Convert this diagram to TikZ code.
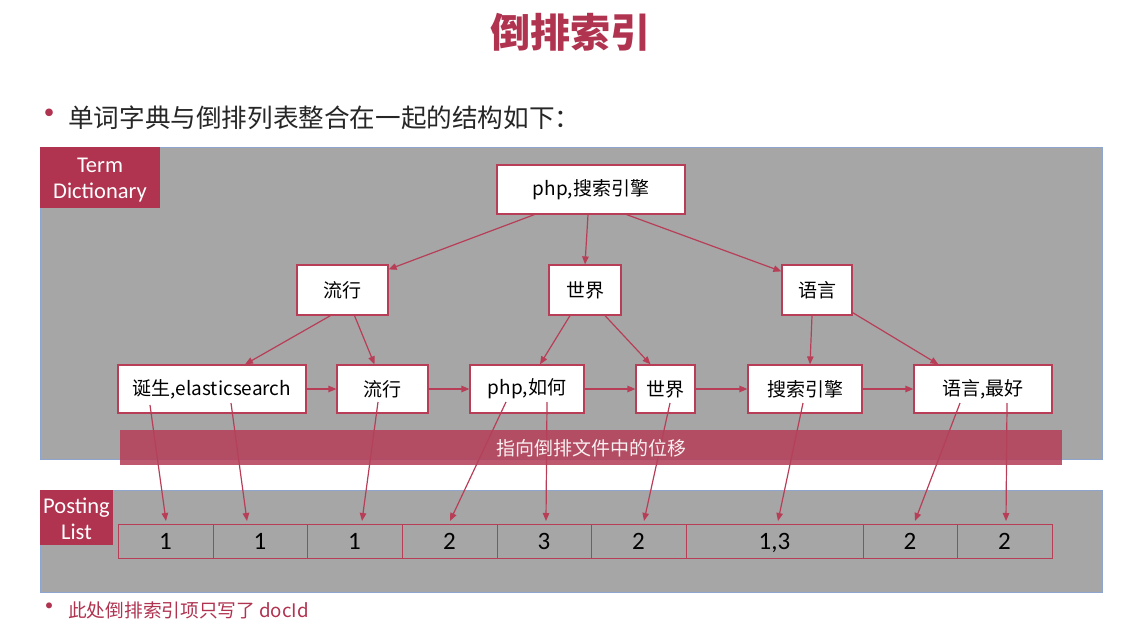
\documentclass[tikz,border=0pt]{standalone}
\usepackage{fontspec}
\setmainfont{Noto Sans CJK SC}
\newfontfamily\carlito{Carlito}
\usetikzlibrary{arrows.meta,calc}
\definecolor{myred}{RGB}{176,51,80}
\definecolor{linered}{RGB}{184,62,88}
\definecolor{panelgray}{RGB}{166,166,166}
\definecolor{panelblue}{RGB}{142,166,206}
\definecolor{bandred}{RGB}{180,65,90}
\tikzset{
  panel/.style={draw=panelblue,line width=0.8pt,fill=panelgray},
  tagbox/.style={fill=myred,inner sep=0pt},
  tagtext/.style={text=white,inner sep=0pt,align=center,font=\carlito\fontsize{22.5}{26}\selectfont},
  termbox/.style={draw=linered,line width=1.2pt,fill=white,inner sep=0pt,font=\fontsize{19}{22}\selectfont},
  cellbox/.style={draw=linered,line width=1pt,inner sep=0pt,minimum height=34pt,text depth=0pt,font=\carlito\fontsize{25}{26}\selectfont},
  conn/.style={draw=linered,line width=1.2pt,-{Triangle[length=8pt,width=6.5pt]}},
  bullet/.style={text=myred,inner sep=0pt,font=\fontsize{36}{36}\selectfont},
}
\begin{document}
\begin{tikzpicture}[x=1pt,y=-1pt]
\useasboundingbox (0,0) rectangle (1121,623);
% title
\node[text=myred,font=\bfseries\fontsize{40}{44}\selectfont] (title) at (570,32) {倒排索引};
\node[bullet] (b1) at (49,118) {•};
\node[anchor=west,inner sep=0pt,font=\fontsize{25.6}{28}\selectfont,text=black!85] (t1) at (68,118) {单词字典与倒排列表整合在一起的结构如下：};
% panels
\path[panel] (40,147) rectangle (1102,459);
\path[panel] (40,490) rectangle (1102,592);
\node[tagbox,minimum width=120pt,minimum height=61pt] (td) at (100,177.5) {};
\node[tagtext] (tdt) at ($(td.center)+(0,3)$) {Term\\Dictionary};
\node[tagbox,minimum width=73pt,minimum height=55pt] (pl) at (76.5,517.5) {};
\node[tagtext] (plt) at ($(pl.center)+(0,1)$) {Posting\\List};
% term nodes
\node[termbox,minimum width=188pt,minimum height=49pt] (root) at (591,189.5) {php,搜索引擎};
\node[termbox,minimum width=91pt,minimum height=50pt] (a1) at (342.5,290) {流行};
\node[termbox,minimum width=72pt,minimum height=50pt] (a2) at (585,290) {世界};
\node[termbox,minimum width=70pt,minimum height=50pt] (a3) at (817,290) {语言};
\node[termbox,minimum width=188pt,minimum height=48pt] (n1) at (212,389) {诞生,elasticsearch};
\node[termbox,minimum width=91pt,minimum height=48pt] (n2) at (382.5,389) {流行};
\node[termbox,minimum width=114pt,minimum height=48pt] (n3) at (527,389) {php,如何};
\node[termbox,minimum width=59pt,minimum height=48pt] (n4) at (665.5,389) {世界};
\node[termbox,minimum width=114pt,minimum height=48pt] (n5) at (805,389) {搜索引擎};
\node[termbox,minimum width=138pt,minimum height=48pt] (n6) at (983,389) {语言,最好};
% tree arrows
\draw[conn] ($(root.south west)+(38,0)$) -- ($(a1.north east)+(0,5)$);
\draw[conn] ($(root.south)+(-3,0)$) -- (a2.north);
\draw[conn] ($(root.south east)+(-59,0)$) -- ($(a3.north west)+(0,7)$);
\draw[conn] ($(a1.south)+(-12,0)$) -- ($(n1.north)+(33,0)$);
\draw[conn] ($(a1.south)+(12,0)$) -- ($(n2.north)+(-8,0)$);
\draw[conn] ($(a2.south)+(-15,0)$) -- ($(n3.north)+(13,0)$);
\draw[conn] ($(a2.south)+(20,0)$) -- ($(n4.north)+(-15,0)$);
\draw[conn] ($(a3.south)+(-5,0)$) -- ($(n5.north)+(5,0)$);
\draw[conn] ($(a3.south east)+(0,-3)$) -- ($(n6.north west)+(25,0)$);
% list arrows
\draw[conn] (n1) -- (n2);
\draw[conn] (n2) -- (n3);
\draw[conn] (n3) -- (n4);
\draw[conn] (n4) -- (n5);
\draw[conn] (n5) -- (n6);
% posting cells
\node[cellbox,minimum width=95pt] (c1) at (165.5,541) {1};
\node[cellbox,minimum width=94pt] (c2) at (260,541) {1};
\node[cellbox,minimum width=95pt] (c3) at (354.5,541) {1};
\node[cellbox,minimum width=95pt] (c4) at (449.5,541) {2};
\node[cellbox,minimum width=94pt] (c5) at (544,541) {3};
\node[cellbox,minimum width=95pt] (c6) at (638.5,541) {2};
\node[cellbox,minimum width=177pt] (c7) at (774.5,541) {1,3};
\node[cellbox,minimum width=94pt] (c8) at (910,541) {2};
\node[cellbox,minimum width=95pt] (c9) at (1004.5,541) {2};
% pointer start / end coordinates
\coordinate (s1) at (150,405); \coordinate (e1) at (166,521);
\coordinate (s2) at (231,403); \coordinate (e2) at (247,521);
\coordinate (s3) at (378,402); \coordinate (e3) at (362,521);
\coordinate (s4) at (506,402); \coordinate (e4) at (450,521);
\coordinate (s5) at (547,402); \coordinate (e5) at (546,521);
\coordinate (s6) at (670,403); \coordinate (e6) at (644,521);
\coordinate (s7) at (803,403); \coordinate (e7) at (778,521);
\coordinate (s8) at (960,403); \coordinate (e8) at (915,521);
\coordinate (s9) at (1007,403); \coordinate (e9) at (1006,521);
\foreach \i in {1,...,9} {\draw[conn] (s\i) -- (e\i);}
% band
\fill[bandred,opacity=0.88] (120,430) rectangle (1062,465);
\node[text=white!92!myred,font=\fontsize{19}{21}\selectfont] (band) at (591,448) {指向倒排文件中的位移};
% bottom note
\node[bullet,font=\fontsize{28}{28}\selectfont] (b2) at (49,610) {•};
\node[anchor=west,inner sep=0pt,text=myred,font=\fontsize{18.7}{20}\selectfont] (t2) at (68,610) {此处倒排索引项只写了 docId};
\end{tikzpicture}
\end{document}
